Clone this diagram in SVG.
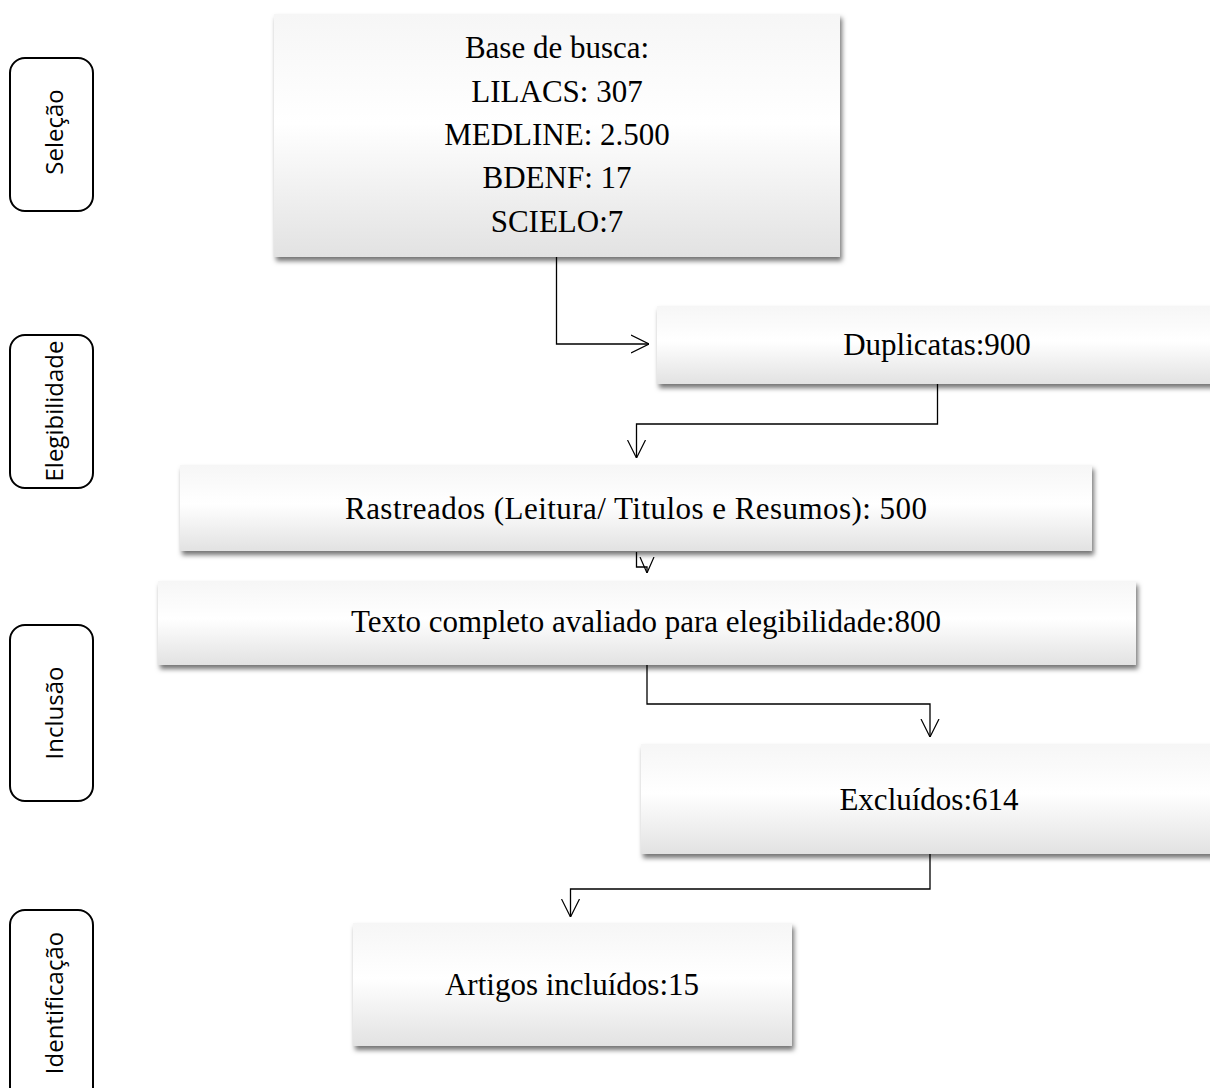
<svg xmlns="http://www.w3.org/2000/svg" width="1210" height="1088" viewBox="0 0 1210 1088">
<defs>
<linearGradient id="boxGrad" x1="0" y1="0" x2="0" y2="1">
<stop offset="0" stop-color="#f6f6f6"/>
<stop offset="0.45" stop-color="#ffffff"/>
<stop offset="1" stop-color="#e2e2e2"/>
</linearGradient>
<filter id="shadow" x="-5%" y="-10%" width="115%" height="130%">
<feDropShadow dx="2" dy="4" stdDeviation="2.5" flood-color="#000" flood-opacity="0.55"/>
</filter>
<marker id="arrow" viewBox="0 0 18 20" refX="18" refY="10" markerWidth="18" markerHeight="20" markerUnits="userSpaceOnUse" orient="auto">
<path d="M0,1 L18,10 L0,19" fill="none" stroke="#000" stroke-width="1.2"/>
</marker>
<marker id="arrowSmall" viewBox="0 0 16 16" refX="16" refY="8" markerWidth="16" markerHeight="16" markerUnits="userSpaceOnUse" orient="auto">
<path d="M0,1 L16,8 L0,15" fill="none" stroke="#000" stroke-width="1.2"/>
</marker>
</defs>
<style>
.box{fill:url(#boxGrad);filter:url(#shadow);}
.t{font-family:"Liberation Serif","Times New Roman",serif;font-size:31px;fill:#000;text-anchor:middle;}
.side{fill:#fff;stroke:#000;stroke-width:2;}
.st{font-family:"Open Sans","Noto Sans",sans-serif;font-size:24px;fill:#000;text-anchor:middle;}
.c{fill:none;stroke:#000;stroke-width:1.3;}
</style>
<rect width="1210" height="1088" fill="#fff"/>

<g id="stage-selecao">
<rect class="side" x="10" y="58" width="83" height="153" rx="15"/>
<text class="st" transform="translate(63,132) rotate(-90)">Seleção</text>
</g>
<g id="stage-elegibilidade">
<rect class="side" x="10" y="335" width="83" height="153" rx="15"/>
<text class="st" transform="translate(63,411) rotate(-90)">Elegibilidade</text>
</g>
<g id="stage-inclusao">
<rect class="side" x="10" y="625" width="83" height="176" rx="15"/>
<text class="st" transform="translate(63,713) rotate(-90)">Inclusão</text>
</g>
<g id="stage-identificacao">
<rect class="side" x="10" y="910" width="83" height="200" rx="15"/>
<text class="st" transform="translate(63,1003) rotate(-90)">Identificação</text>
</g>

<g id="connectors">
<path class="c" d="M556.5,257 V344 H649" marker-end="url(#arrow)"/>
<path class="c" d="M937.5,384 V424 H636.5 V458" marker-end="url(#arrow)"/>
<path class="c" d="M636.5,552 V567 H647 V573" marker-end="url(#arrowSmall)"/>
<path class="c" d="M647,665 V704 H930 V737" marker-end="url(#arrow)"/>
<path class="c" d="M930,854 V889 H570.5 V917" marker-end="url(#arrow)"/>
</g>

<g id="node-base">
<rect class="box" x="274" y="14" width="566" height="243"/>
<text class="t" x="557" y="58">Base de busca:</text>
<text class="t" x="557" y="102">LILACS: 307</text>
<text class="t" x="557" y="145">MEDLINE: 2.500</text>
<text class="t" x="557" y="188">BDENF: 17</text>
<text class="t" x="557" y="232">SCIELO:7</text>
</g>
<g id="node-duplicatas">
<rect class="box" x="657" y="306" width="570" height="78"/>
<text class="t" x="937" y="355">Duplicatas:900</text>
</g>
<g id="node-rastreados">
<rect class="box" x="180" y="465" width="912" height="86"/>
<text class="t" x="636" y="519" textLength="582" lengthAdjust="spacing">Rastreados (Leitura/ Titulos e Resumos): 500</text>
</g>
<g id="node-texto">
<rect class="box" x="158" y="581" width="978" height="84"/>
<text class="t" x="646" y="632">Texto completo avaliado para elegibilidade:800</text>
</g>
<g id="node-excluidos">
<rect class="box" x="641" y="744" width="580" height="110"/>
<text class="t" x="929" y="810">Excluídos:614</text>
</g>
<g id="node-artigos">
<rect class="box" x="353" y="923" width="439" height="123"/>
<text class="t" x="572" y="995">Artigos incluídos:15</text>
</g>
</svg>
